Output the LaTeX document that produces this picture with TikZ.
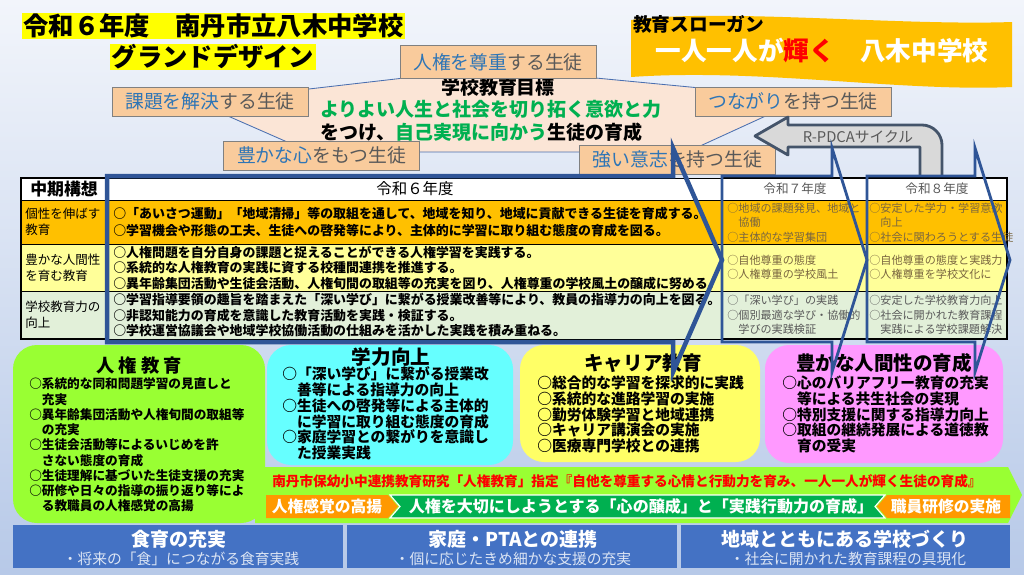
\documentclass[tikz,border=0pt]{standalone}
\usepackage{fontspec}
\setmainfont{Noto Sans CJK JP}
\usepackage{tikz}
\usetikzlibrary{arrows.meta, positioning}
\usepackage{xcolor}

\definecolor{bgtop}{HTML}{F2F5FB}
\definecolor{bgbot}{HTML}{B7C9E8}
\definecolor{hlyellow}{HTML}{FFFF00}
\definecolor{slogan}{HTML}{FFC000}
\definecolor{goalfill}{HTML}{FBE5D6}
\definecolor{goalline}{HTML}{4A6FB0}
\definecolor{tagfill}{HTML}{F9CB9C}
\definecolor{tagblue}{HTML}{2E75B6}
\definecolor{taggray}{HTML}{595959}
\definecolor{goalgreen}{HTML}{00B050}
\definecolor{chevblue}{HTML}{2F5597}
\definecolor{pdcafill}{HTML}{D9D9D9}
\definecolor{pdcaline}{HTML}{44546A}
\definecolor{rowA}{HTML}{FFC000}
\definecolor{rowB}{HTML}{FFFF99}
\definecolor{rowC}{HTML}{E2F0D9}
\definecolor{futuretxt}{HTML}{7A6640}
\definecolor{jinken}{HTML}{99FF33}
\definecolor{gakuryoku}{HTML}{66FFFF}
\definecolor{career}{HTML}{FFFF66}
\definecolor{yutaka}{HTML}{FF99FF}
\definecolor{stripor}{HTML}{FF9900}
\definecolor{stripgr}{HTML}{00B050}
\definecolor{panel}{HTML}{4472C4}
\definecolor{panellight}{HTML}{DCE5F4}

\newcommand{\fsz}[2]{\fontsize{#1pt}{#2pt}\selectfont}

\begin{document}
\begin{tikzpicture}[
x=0.025cm, y=-0.025cm,
titlebox/.style={fill=hlyellow, inner xsep=1pt, inner ysep=0pt,
minimum height=0.65cm, font=\fsz{18}{22}\bfseries},
tagbox/.style={draw=gray, fill=tagfill, text=taggray,
minimum width=4.9cm, minimum height=0.72cm, inner sep=0pt,
font=\fsz{13.4}{16}},
goaltext/.style={inner sep=0pt, font=\fsz{13.5}{16}\bfseries},
headcell/.style={inner sep=0pt, font=\fsz{11}{13}},
termcell/.style={anchor=west, align=left, inner sep=0pt, font=\fsz{8.9}{11.4}},
plancell/.style={anchor=west, align=left, inner sep=0pt, font=\fsz{9.2}{10.7}\bfseries},
futurecell/.style={anchor=west, align=left, inner sep=0pt, text=futuretxt,
font=\fsz{7.9}{10.2}},
boxtitle/.style={inner sep=0pt, font=\fsz{13.9}{16}\bfseries},
boxlist/.style={anchor=west, align=left, inner sep=0pt, font=\fsz{10.5}{11.2}\bfseries},
striptext/.style={inner sep=0pt, text=white, font=\fsz{11.2}{13}\bfseries},
paneltitle/.style={inner sep=0pt, text=white, font=\fsz{13.5}{16}\bfseries},
panelsub/.style={inner sep=0pt, text=panellight, font=\fsz{10.5}{12}},
chevron/.style={draw=chevblue, line width=2pt}
]

\useasboundingbox (0,0) rectangle (1024,574);
\fill[top color=bgtop, bottom color=bgbot] (0,0) rectangle (1024,574);

% title and slogan
\node[titlebox, anchor=west] (title) at (22,26) {令和６年度　南丹市立八木中学校};
\node[titlebox] (subtitle) at (213,57) {グランドデザイン};

\fill[slogan] (631,20) .. controls (720,8) and (900,26) .. (1012,22) -- (1012,87)
  .. controls (900,92) and (760,68) .. (631,77) -- cycle;
\node[anchor=west, inner sep=0pt, font=\fsz{13.3}{16}\bfseries] (sloganhead) at (633,24) {教育スローガン};
\node[inner sep=0pt, text=white, font=\fsz{18.2}{22}\bfseries] (slogantext) at (822,51)
  {一人一人が\textcolor{red}{輝く}　八木中学校};

% school goal
\filldraw[fill=goalfill, draw=goalline, line width=0.6pt]
  (491,68) -- (805,98) -- (687,152) -- (310,152) -- (196,102) -- cycle;
\node[goaltext] (goal) at (498,87) {学校教育目標};
\node[goaltext, anchor=west, text=goalgreen] (goalA) at (320,109) {よりよい人生と社会を切り拓く意欲と力};
\node[goaltext, anchor=west] (goalB) at (320,132)
  {をつけ、\textcolor{goalgreen}{自己実現に向かう}生徒の育成};

\node[tagbox, minimum height=0.82cm] (respect) at (498,62) {\textcolor{tagblue}{人権を尊重}する生徒};
\node[tagbox] (solve) at (210,101.5) {\textcolor{tagblue}{課題を解決}する生徒};
\node[tagbox] (heart) at (321.5,155.5) {\textcolor{tagblue}{豊かな心}をもつ生徒};
\node[tagbox] (connect) at (793,101.5) {\textcolor{tagblue}{つながり}を持つ生徒};
\node[tagbox] (will) at (677.5,159.5) {\textcolor{tagblue}{強い意志}を持つ生徒};

% R-PDCA
\filldraw[fill=pdcafill, draw=pdcaline, line width=2pt, line join=round]
  (755,136) -- (788,117) -- (788,125) -- (922,125) .. controls (933,125) and (942,134) .. (942,145)
  -- (942,177) -- (920,177) -- (920,147) -- (788,147) -- (788,155) -- cycle;
\node[inner sep=0pt, text=taggray, font=\fsz{10.5}{12}] (pdca) at (858,137) {R-PDCAサイクル};

% table
\filldraw[fill=white, draw=black, line width=0.6pt] (21,178) rectangle (1007,200);
\filldraw[fill=rowA, draw=black, line width=0.6pt] (21,200) rectangle (1007,244);
\filldraw[fill=rowB, draw=black, line width=0.6pt] (21,244) rectangle (1007,291);
\filldraw[fill=rowC, draw=black, line width=0.6pt] (21,291) rectangle (1007,339);
\draw[line width=1.4pt] (21,178) rectangle (108,339);
\draw[line width=1.4pt] (722,178) rectangle (1007,339);
\draw[line width=0.6pt] (866,178) -- (866,339);

\node[headcell, font=\fsz{12}{14}\bfseries] (termhead) at (64,189) {中期構想};
\node[headcell] (planhead) at (415,189) {令和６年度};
\node[headcell, text=taggray, font=\fsz{9}{11}] (nexthead) at (795,189) {令和７年度};
\node[headcell, text=taggray, font=\fsz{9}{11}] (lasthead) at (937,189) {令和８年度};

\node[termcell] (term1) at (25,222) {個性を伸ばす\\教育};
\node[termcell] (term2) at (25,267.5) {豊かな人間性\\を育む教育};
\node[termcell] (term3) at (25,315) {学校教育力の\\向上};

\node[plancell, font=\fsz{9.2}{12.1}\bfseries] (plan1) at (113,222.5)
  {○「あいさつ運動」「地域清掃」等の取組を通して、地域を知り、地域に貢献できる生徒を育成する。\\
   ○学習機会や形態の工夫、生徒への啓発等により、主体的に学習に取り組む態度の育成を図る。};
\node[plancell] (plan2) at (113,268)
  {○人権問題を自分自身の課題と捉えることができる人権学習を実践する。\\
   ○系統的な人権教育の実践に資する校種間連携を推進する。\\
   ○異年齢集団活動や生徒会活動、人権旬間の取組等の充実を図り、人権尊重の学校風土の醸成に努める。};
\node[plancell] (plan3) at (113,315)
  {○学習指導要領の趣旨を踏まえた「深い学び」に繋がる授業改善等により、教員の指導力の向上を図る。\\
   ○非認知能力の育成を意識した教育活動を実践・検証する。\\
   ○学校運営協議会や地域学校協働活動の仕組みを活かした実践を積み重ねる。};

\node[futurecell] (next1) at (727,222.5) {○地域の課題発見、地域と\\　協働\\○主体的な学習集団};
\node[futurecell] (next2) at (727,267.5) {○自他尊重の態度\\○人権尊重の学校風土};
\node[futurecell, text=taggray] (next3) at (727,315) {○「深い学び」の実践\\○個別最適な学び・協働的\\　学びの実践検証};
\node[futurecell] (last1) at (869,222.5) {○安定した学力・学習意欲\\　向上\\○社会に関わろうとする生徒};
\node[futurecell] (last2) at (869,267.5) {○自他尊重の態度と実践力\\○人権尊重を学校文化に};
\node[futurecell, text=taggray] (last3) at (869,315) {○安定した学校教育力向上\\○社会に開かれた教育課程\\　実践による学校課題解決};

% four fields
\fill[jinken, rounded corners=0.6cm] (13,345) rectangle (265,523);
\fill[jinken] (255,467) -- (1008,467) -- (1022,495) -- (1008,523) -- (255,523) -- cycle;
\fill[gakuryoku, rounded corners=0.6cm] (267,345) rectangle (513,465);
\fill[career, rounded corners=0.6cm] (520,345) rectangle (760,462);
\fill[yutaka, rounded corners=0.6cm] (765,345) rectangle (1003,463);

\node[boxtitle, font=\fsz{13}{16}\bfseries] (jinkentitle) at (139,366)
  {人\hspace{3pt}権\hspace{3pt}教\hspace{3pt}育};
\node[boxlist, font=\fsz{9}{10.85}\bfseries] (jinkenlist) at (29,445)
  {○系統的な同和問題学習の見直しと\\　充実\\○異年齢集団活動や人権旬間の取組等\\　の充実\\
   ○生徒会活動等によるいじめを許\\　さない態度の育成\\○生徒理解に基づいた生徒支援の充実\\
   ○研修や日々の指導の振り返り等によ\\　る教職員の人権感覚の高揚};

\node[boxtitle] (gakutitle) at (391,357) {学力向上};
\node[boxlist] (gakulist) at (282,413.5)
  {○「深い学び」に繋がる授業改\\　善等による指導力の向上\\○生徒への啓発等による主体的\\
   　に学習に取り組む態度の育成\\○家庭学習との繋がりを意識し\\　た授業実践};

\node[boxtitle] (careertitle) at (643,363) {キャリア教育};
\node[boxlist] (careerlist) at (537,414.5)
  {○総合的な学習を探求的に実践\\○系統的な進路学習の実施\\○勤労体験学習と地域連携\\
   ○キャリア講演会の実施\\○医療専門学校との連携};

\node[boxtitle] (yutakatitle) at (884,363) {豊かな人間性の育成};
\node[boxlist] (yutakalist) at (782,414.5)
  {○心のバリアフリー教育の充実\\　等による共生社会の実現\\○特別支援に関する指導力向上\\
   ○取組の継続発展による道徳教\\　育の受実};

% research band
\node[anchor=west, inner sep=0pt, text=red, font=\fsz{9.7}{12}\bfseries] (study) at (272,481)
  {南丹市保幼小中連携教育研究「人権教育」指定『自他を尊重する心情と行動力を育み、一人一人が輝く生徒の育成』};
\fill[stripor] (266,495) -- (388,495) -- (398,506.5) -- (388,518) -- (266,518) -- cycle;
\filldraw[fill=stripgr, draw=white, line width=0.8pt]
  (390,495) -- (885,495) -- (875,506.5) -- (885,518) -- (390,518) -- (400,506.5) -- cycle;
\fill[stripor] (887,495) -- (1010,495) -- (1010,518) -- (887,518) -- (877,506.5) -- cycle;
\node[striptext] (sense) at (327,506.5) {人権感覚の高揚};
\node[striptext, font=\fsz{11.4}{13}\bfseries] (mind) at (641,506.5)
  {人権を大切にしようとする「心の醸成」と「実践行動力の育成」};
\node[striptext] (training) at (946,506.5) {職員研修の実施};

% bottom panels
\fill[panel] (13,525) rectangle (343,568);
\fill[panel] (347,525) rectangle (677,568);
\fill[panel] (681,525) rectangle (1010,568);
\node[paneltitle] (food) at (179,539) {食育の充実};
\node[panelsub] (foodsub) at (181,559) {・将来の「食」につながる食育実践};
\node[paneltitle] (family) at (513,539) {家庭・PTAとの連携};
\node[panelsub] (familysub) at (513,559) {・個に応じたきめ細かな支援の充実};
\node[paneltitle] (community) at (845,539) {地域とともにある学校づくり};
\node[panelsub] (communitysub) at (848,559) {・社会に開かれた教育課程の具現化};

% year arrows
\draw[chevron, line width=3.2pt]
  (107,176) -- (673,176) -- (673,148) -- (722,260) -- (673,372) -- (673,342) -- (107,342) -- cycle;
\draw[chevron] (722,176) -- (832,176) -- (832,148) -- (867,260) -- (832,372) -- (832,342) -- (722,342) -- cycle;
\draw[chevron] (867,176) -- (975,176) -- (975,148) -- (1010,260) -- (975,372) -- (975,342) -- (867,342) -- cycle;

\end{tikzpicture}
\end{document}
